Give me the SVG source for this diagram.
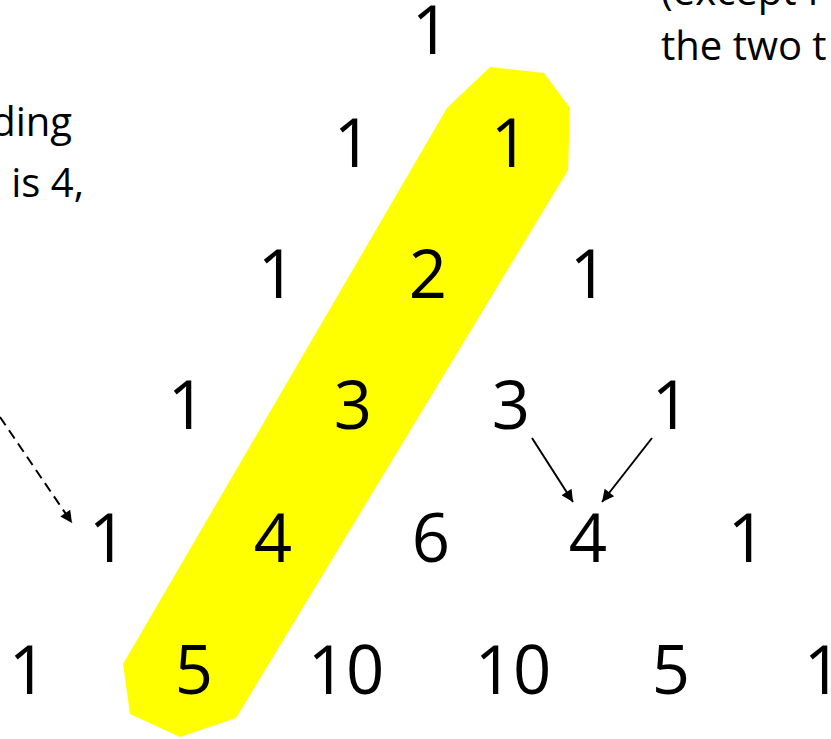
<svg xmlns="http://www.w3.org/2000/svg" width="831" height="739" viewBox="0 0 831 739">
  <style>
    .n { font-family: "Open Sans", "Liberation Sans", sans-serif; font-size: 67px; fill: #000; text-anchor: middle; }
    .t { font-family: "Open Sans", "Liberation Sans", sans-serif; font-size: 40px; fill: #000; }
    .c { stroke: #000; stroke-width: 2; fill: none; }
    .d { stroke-dasharray: 10 6; }
  </style>
  <defs>
    <marker id="ah" viewBox="0 0 10 10" refX="10" refY="5" markerWidth="7.5" markerHeight="6" orient="auto" markerUnits="strokeWidth">
      <path d="M0,0 L10,5 L0,10 z" fill="#000"/>
    </marker>
  </defs>
  <rect width="831" height="739" fill="#fff"/>
  <g id="highlight">
    <polygon points="490,67 544,73 570,108 568,170 236,718 180,737 130,714 123,664 447,108" fill="#ffff00"/>
  </g>
  <g id="notes">
    <text class="t" x="661" y="5">(except f</text>
    <text class="t" x="661" y="60">the two t</text>
    <text class="t" x="72" y="136" text-anchor="end">ding</text>
    <text class="t" x="84" y="197" text-anchor="end">is 4,</text>
  </g>
  <g id="connectors">
    <line class="c d" x1="0" y1="417" x2="72" y2="523" marker-end="url(#ah)"/>
    <line class="c" x1="532" y1="438" x2="573" y2="502" marker-end="url(#ah)"/>
    <line class="c" x1="652" y1="438" x2="602" y2="502" marker-end="url(#ah)"/>
  </g>
  <g id="r0c0"><text class="n" x="431" y="54">1</text></g>
  <g id="r1c0"><text class="n" x="353" y="167">1</text></g>
  <g id="r1c1"><text class="n" x="510" y="167">1</text></g>
  <g id="r2c0"><text class="n" x="277" y="298">1</text></g>
  <g id="r2c1"><text class="n" x="428" y="298">2</text></g>
  <g id="r2c2"><text class="n" x="589" y="298">1</text></g>
  <g id="r3c0"><text class="n" x="187" y="429">1</text></g>
  <g id="r3c1"><text class="n" x="353" y="429">3</text></g>
  <g id="r3c2"><text class="n" x="511" y="429">3</text></g>
  <g id="r3c3"><text class="n" x="671" y="429">1</text></g>
  <g id="r4c0"><text class="n" x="108" y="562">1</text></g>
  <g id="r4c1"><text class="n" x="273" y="562">4</text></g>
  <g id="r4c2"><text class="n" x="431" y="562">6</text></g>
  <g id="r4c3"><text class="n" x="588" y="562">4</text></g>
  <g id="r4c4"><text class="n" x="747" y="562">1</text></g>
  <g id="r5c0"><text class="n" x="28" y="694">1</text></g>
  <g id="r5c1"><text class="n" x="194" y="694">5</text></g>
  <g id="r5c2"><text class="n" x="346" y="694">10</text></g>
  <g id="r5c3"><text class="n" x="513" y="694">10</text></g>
  <g id="r5c4"><text class="n" x="671" y="694">5</text></g>
  <g id="r5c5"><text class="n" x="823" y="694">1</text></g>
</svg>
